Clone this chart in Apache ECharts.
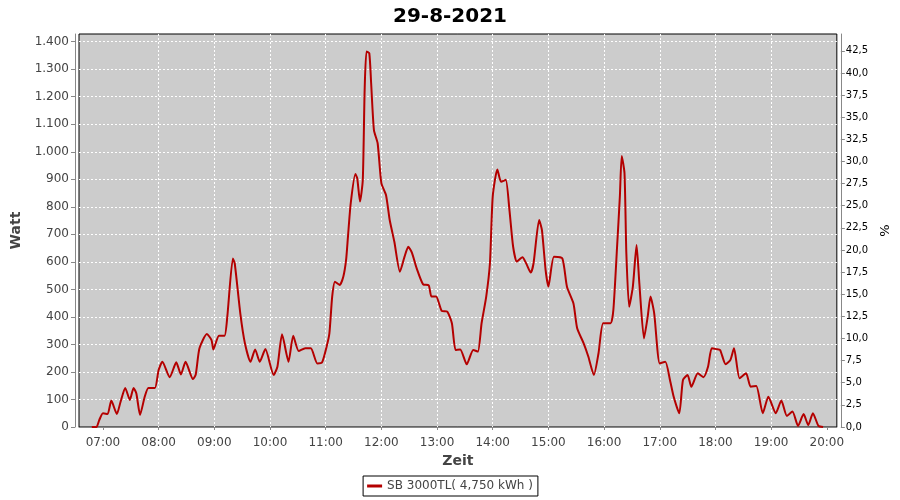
<!DOCTYPE html>
<html><head><meta charset="utf-8">
<script src="https://cdn.jsdelivr.net/npm/echarts@6/dist/echarts.min.js"></script>
<style>html,body{margin:0;padding:0;background:#fff}#c{width:900px;height:500px}</style>
</head><body><div id="c"></div>
<script>
const chartTitle = '29-8-2021';
const seriesName = 'SB 3000TL( 4,750 kWh )';
const times = ['06:48','06:53','06:56','07:00','07:05','07:09','07:15','07:19','07:24','07:29','07:33','07:36','07:40','07:45','07:49','07:56',
'08:00','08:04','08:12','08:19','08:24','08:29','08:37','08:40','08:44','08:52','08:57','08:59',
'09:05','09:11','09:14','09:20','09:22','09:28','09:33','09:39','09:44','09:49','09:55',
'10:04','10:08','10:13','10:20','10:25','10:31','10:38','10:44','10:51','10:56',
'11:01','11:04','11:07','11:10','11:15','11:19','11:22','11:24','11:27','11:32','11:34','11:37','11:40','11:42','11:44','11:47','11:49','11:52','11:56',
'12:00','12:05','12:09','12:14','12:20','12:25','12:29','12:33','12:38','12:45','12:51','12:54','12:59',
'13:05','13:11','13:16','13:20','13:25','13:32','13:39','13:44','13:48','13:53','13:57',
'14:00','14:05','14:09','14:14','14:18','14:22','14:26','14:32','14:36','14:41','14:44','14:50','14:53','14:57',
'15:00','15:06','15:15','15:20','15:27','15:31','15:38','15:43','15:49','15:54','15:59',
'16:07','16:10','16:14','16:17','16:19','16:22','16:24','16:27','16:31','16:35','16:38','16:43','16:47','16:50','16:54',
'17:00','17:06','17:11','17:15','17:21','17:25','17:30','17:34','17:41','17:47','17:52','17:56',
'18:01','18:05','18:11','18:16','18:20','18:26','18:33','18:38','18:44','18:51','18:57',
'19:05','19:11','19:17','19:23','19:29','19:35','19:40','19:45','19:51','19:56'];
const watts = [0,0,25,50,47,96,47,92,142,98,142,122,44,110,142,142,
207,237,181,235,191,237,174,191,286,338,316,282,
332,332,401,612,595,413,304,237,282,237,283,
189,219,337,237,332,276,286,286,231,234,
292,340,473,528,516,546,607,691,813,919,904,819,898,1225,1364,1358,1249,1079,1031,
886,843,752,673,564,619,655,633,577,518,515,474,474,
422,419,377,280,282,228,280,274,377,474,595,
837,936,891,898,789,655,601,617,595,561,595,752,716,570,
510,619,613,510,449,359,304,256,189,268,377,
377,425,655,837,985,922,631,437,510,661,522,322,401,474,413,
231,237,171,110,50,171,189,146,195,181,219,286,
283,280,228,243,286,177,195,146,149,50,110,
50,96,40,56,4,47,7,50,4,0];
const xTickLabels = ['07:00','08:00','09:00','10:00','11:00','12:00','13:00','14:00','15:00','16:00','17:00','18:00','19:00','20:00'];
const leftTicks = [0,100,200,300,400,500,600,700,800,900,1000,1100,1200,1300,1400];
const rightTicks = [0,2.5,5,7.5,10,12.5,15,17.5,20,22.5,25,27.5,30,32.5,35,37.5,40,42.5];
const xRange = ['06:34','20:11'];
const leftMax = 1428;
const rightMax = 44.4;

function toMin(s){const p=s.split(':');return (+p[0])*60+(+p[1]);}
function fmtMin(v){const h=Math.floor(v/60), m=Math.round(v-h*60);return String(h).padStart(2,'0')+':'+String(m).padStart(2,'0');}
const xTickVals = xTickLabels.map(toMin);
const FONT = 'DejaVu Sans';

const chart = echarts.init(document.getElementById('c'), null, {renderer:'canvas'});
chart.setOption({
  backgroundColor:'#ffffff',
  animation:false,
  title:{text:chartTitle,left:'center',top:2,textStyle:{fontFamily:FONT,fontSize:20,fontWeight:'bold',color:'#000'}},
  grid:{left:79,right:61,top:34,bottom:73,show:true,backgroundColor:'#cccccc',borderColor:'#000',borderWidth:1,containLabel:false},
  legend:{data:[seriesName],left:'center',top:476,borderColor:'#000',borderWidth:1,padding:[4,5,4,4],itemWidth:15,itemHeight:3,itemGap:5,icon:'rect',
    textStyle:{fontFamily:FONT,fontSize:12,color:'#444'}},
  xAxis:{type:'value',min:toMin(xRange[0])+0.2,max:toMin(xRange[1])-0.2,offset:4,
    name:'Zeit',nameLocation:'middle',nameGap:22,nameTextStyle:{fontFamily:FONT,fontSize:14,fontWeight:'bold',color:'#444'},
    axisLine:{show:true,lineStyle:{color:'#888',width:1}},
    axisTick:{show:true,length:3,customValues:xTickVals,lineStyle:{color:'#888'}},
    axisLabel:{customValues:xTickVals,formatter:v=>fmtMin(v),fontFamily:FONT,fontSize:12,color:'#444',margin:6},
    splitLine:{show:true,showMinLine:false,showMaxLine:false,lineStyle:{color:'#ffffff',type:[2,2],width:1}}},
  yAxis:[
    {type:'value',min:0,max:leftMax,interval:100,offset:4,position:'left',
     name:'Watt',nameLocation:'middle',nameGap:41,nameRotate:90,nameTextStyle:{fontFamily:FONT,fontSize:14,fontWeight:'bold',color:'#444'},
     axisLine:{show:true,lineStyle:{color:'#888'}},
     axisTick:{show:true,length:4,lineStyle:{color:'#888'}},
     axisLabel:{fontFamily:FONT,fontSize:12,color:'#444',margin:6,showMaxLabel:false,
       formatter:v=>leftTicks.indexOf(v)<0?'':String(v).replace(/\B(?=(\d{3})+(?!\d))/g,'.')},
     splitLine:{show:true,showMinLine:false,showMaxLine:false,lineStyle:{color:'#ffffff',type:[2,2],width:1}}},
    {type:'value',min:0,max:rightMax,interval:2.5,offset:4,position:'right',
     name:'%',nameLocation:'middle',nameGap:36,nameRotate:90,nameTextStyle:{fontFamily:FONT,fontSize:13,color:'#000'},
     axisLine:{show:true,lineStyle:{color:'#888'}},
     axisTick:{show:true,length:4,lineStyle:{color:'#888'}},
     axisLabel:{fontFamily:FONT,fontSize:10,color:'#000',margin:5,showMaxLabel:false,
       formatter:v=>rightTicks.indexOf(v)<0?'':v.toFixed(1).replace('.',',')},
     splitLine:{show:false}}
  ],
  series:[{name:seriesName,type:'line',xAxisIndex:0,yAxisIndex:0,showSymbol:false,smooth:0.2,
    data:times.map((t,i)=>[toMin(t),watts[i]]),
    lineStyle:{color:'#b40000',width:2},itemStyle:{color:'#b40000'}}]
});
</script></body></html>
